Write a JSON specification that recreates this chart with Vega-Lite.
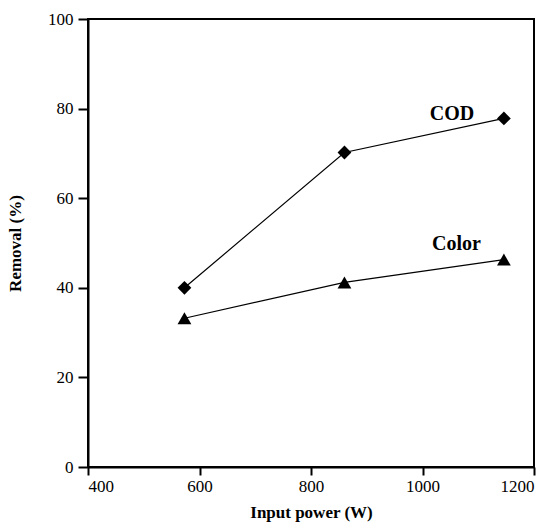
{
  "$schema": "https://vega.github.io/schema/vega-lite/v6.json",
  "autosize": "none",
  "width": 446,
  "height": 448,
  "padding": {"left": 88, "top": 19, "right": 16, "bottom": 63},
  "config": {
    "view": {"stroke": "black", "strokeWidth": 2},
    "font": "Liberation Serif",
    "axis": {
      "grid": false,
      "domainColor": "black",
      "domainWidth": 2,
      "tickColor": "black",
      "tickWidth": 2,
      "tickSize": 8,
      "labelFont": "Liberation Serif",
      "labelFontSize": 17,
      "labelColor": "black",
      "titleFont": "Liberation Serif",
      "titleFontSize": 17,
      "titleFontWeight": "bold",
      "titleColor": "black"
    }
  },
  "datasets": {
    "pts": [
      {"power": 573, "removal": 40.0, "series": "COD"},
      {"power": 860, "removal": 70.2, "series": "COD"},
      {"power": 1146, "removal": 77.8, "series": "COD"},
      {"power": 573, "removal": 33.2, "series": "Color"},
      {"power": 860, "removal": 41.2, "series": "Color"},
      {"power": 1146, "removal": 46.3, "series": "Color"}
    ],
    "labels": [
      {"power": 1053, "removal": 78.7, "text": "COD"},
      {"power": 1061, "removal": 49.7, "text": "Color"}
    ]
  },
  "layer": [
    {
      "data": {"name": "pts"},
      "mark": {"type": "line", "color": "black", "strokeWidth": 1.2},
      "encoding": {
        "x": {"field": "power", "type": "quantitative", "scale": {"domain": [400, 1200]}, "axis": {"values": [400, 600, 800, 1000, 1200], "format": "d", "title": "Input power (W)", "labelPadding": 3, "titlePadding": 10}},
        "y": {"field": "removal", "type": "quantitative", "scale": {"domain": [0, 100]}, "axis": {"values": [0, 20, 40, 60, 80, 100], "title": "Removal (%)", "labelPadding": 5, "titlePadding": 23, "tickSize": 10}},
        "detail": {"field": "series"}
      }
    },
    {
      "data": {"name": "pts"},
      "mark": {"type": "point", "filled": true, "color": "black", "opacity": 1, "size": 190},
      "encoding": {
        "x": {"field": "power", "type": "quantitative"},
        "y": {"field": "removal", "type": "quantitative"},
        "shape": {"field": "series", "type": "nominal", "scale": {"domain": ["COD", "Color"], "range": ["diamond", "triangle-up"]}, "legend": null}
      }
    },
    {
      "data": {"name": "labels"},
      "mark": {"type": "text", "font": "Liberation Serif", "fontSize": 20, "fontWeight": "bold", "color": "black", "baseline": "middle", "align": "center"},
      "encoding": {
        "x": {"field": "power", "type": "quantitative"},
        "y": {"field": "removal", "type": "quantitative"},
        "text": {"field": "text"}
      }
    }
  ]
}
